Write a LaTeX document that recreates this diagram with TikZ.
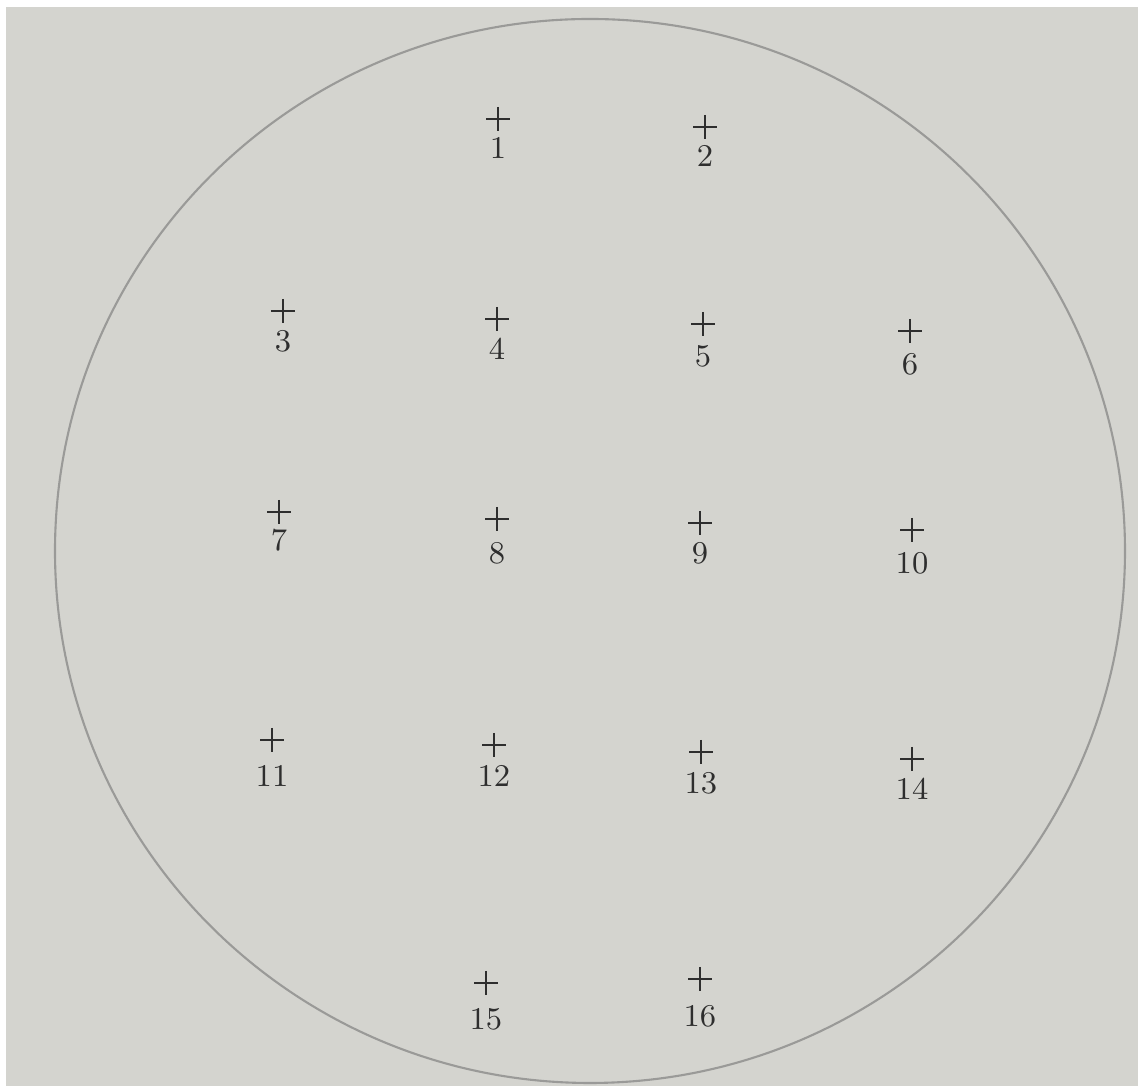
\documentclass[tikz,border=0pt]{standalone}
\usepackage{tikz}
\usetikzlibrary{calc}
\definecolor{paper}{HTML}{D4D4CF}
\definecolor{pencil}{HTML}{2E2E2E}
\definecolor{rim}{HTML}{9A9A98}
\tikzset{
  mark cross/.style={draw=pencil,line width=0.8pt},
  point label/.style={text=pencil,font=\small,inner sep=1pt}
}
\begin{document}
\begin{tikzpicture}[x=0.01cm,y=-0.01cm]
\useasboundingbox (0,0) rectangle (1138,1086);
\fill[white] (0,0) rectangle (1138,1086);
\fill[paper] (6,7) rectangle (1138,1086);
\draw[rim,line width=0.6pt] (590,551) ellipse [x radius=535,y radius=532];
\foreach \n/\x/\y/\ly in {1/498/119/148, 2/705/127/156, 3/283/311/341, 4/497/319/349,
  5/703/324/356, 6/910/331/364, 7/279/512/540, 8/497/519/553,
  9/700/523/553, 10/912/530/563, 11/272/740/776, 12/494/745/776,
  13/701/752/783, 14/912/759/789, 15/486/983/1019, 16/700/979/1016} {
  \coordinate (p\n) at (\x,\y);
  \draw[mark cross] ($(p\n)+(-12,0)$) -- ($(p\n)+(12,0)$);
  \draw[mark cross] ($(p\n)+(0,-12)$) -- ($(p\n)+(0,12)$);
  \node[point label] (l\n) at (\x,\ly) {\n};
}
\end{tikzpicture}
\end{document}
